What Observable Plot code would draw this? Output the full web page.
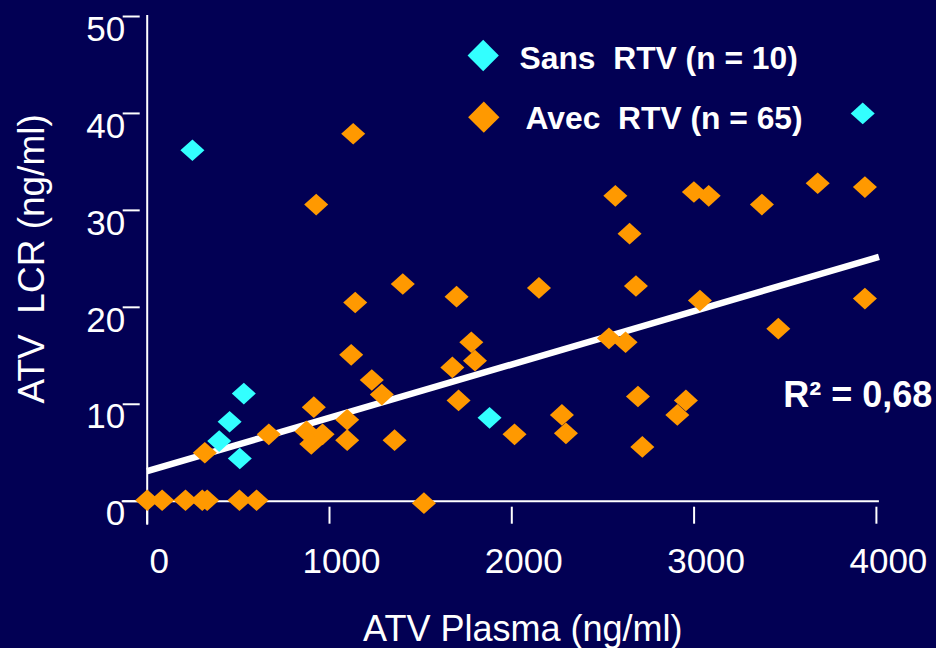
<!DOCTYPE html>
<html><head><meta charset="utf-8">
<script src="https://cdn.jsdelivr.net/npm/d3@7"></script>
<script src="https://cdn.jsdelivr.net/npm/@observablehq/plot@0.6"></script>
<style>
html,body{margin:0;padding:0;background:#020054;}
#chart{width:936px;height:648px;overflow:hidden;}
</style>
</head><body><div id="chart"></div>
<script>
// ---- data ----
const xTicks = [0, 1000, 2000, 3000, 4000];
const yTicks = [0, 10, 20, 30, 40, 50];
const xTitle = "ATV Plasma (ng/ml)";
const yTitle = "ATV\u00a0 LCR (ng/ml)";
const legendLabels = ["Sans\u00a0 RTV (n = 10)", "Avec\u00a0 RTV (n = 65)"];
const r2Label = "R\u00b2 = 0,68";

// Sans RTV (cyan)
const sansX = [248, 395, 452, 508, 530, 1878, 3925];
const sansY = [36.2, 6.2, 8.2, 4.4, 11.1, 8.6, 40.0];

// Avec RTV (orange)
const avecX = [0, 82, 210, 302, 329, 506, 600, 1518,
  1130, 927, 1402, 1141,
  1119, 1232, 1287, 914, 1097, 667, 874, 962, 900, 1097, 1357, 316,
  2568, 2646, 2149, 1697, 2681, 1778, 1798, 1674, 2533, 2624,
  1708, 2015, 2275, 2297, 2692, 2716, 2908, 2955,
  2999, 3080, 3372, 3678, 3937, 3032, 3937, 3462];
const avecY = [0.1, 0.1, 0.1, 0.1, 0.1, 0.1, 0.1, -0.2,
  37.9, 30.6, 22.4, 20.5,
  15.1, 12.5, 11.0, 9.7, 8.4, 6.9, 7.2, 6.9, 5.9, 6.3, 6.3, 5.0,
  31.5, 27.6, 22.0, 21.1, 22.2, 16.4, 14.5, 13.8, 16.8, 16.4,
  10.4, 6.9, 8.9, 7.0, 10.8, 5.6, 8.9, 10.4,
  31.9, 31.5, 30.6, 32.8, 32.4, 20.7, 20.9, 17.8];

// regression line end points
const regX = [0, 4014];
const regY = [3.1, 25.2];

// ---- styles ----
const bg = "#020054";
const cyan = "#33ffff";
const orange = "#ff9900";
const font = "'Liberation Sans', Arial, Helvetica, sans-serif";

const sans = sansX.map((x, i) => ({x, y: sansY[i]}));
const avec = avecX.map((x, i) => ({x, y: avecY[i]}));
const reg = regX.map((x, i) => ({x, y: regY[i]}));

const dataDiamond = {
  draw(context, size) {
    const a = Math.sqrt(size / 1.8);
    const b = a * 0.9;
    context.moveTo(0, -b);
    context.lineTo(a, 0);
    context.lineTo(0, b);
    context.lineTo(-a, 0);
    context.closePath();
  }
};

const chart = Plot.plot({
  width: 936,
  height: 648,
  marginLeft: 146.7,
  marginRight: 60.1,
  marginTop: 16,
  marginBottom: 147.3,
  style: {background: bg, color: "white", fontFamily: font, overflow: "visible"},
  x: {domain: [0, 4000]},
  y: {domain: [0, 50]},
  marks: [
    // axis lines
    Plot.ruleY([0], {stroke: "white", strokeWidth: 2, insetLeft: -25, insetRight: -3}),
    Plot.ruleX([0], {stroke: "white", strokeWidth: 2, insetBottom: -24, insetTop: -1}),
    // ticks
    Plot.axisX(xTicks, {anchor: "bottom", tickSize: 17, dy: 6, tickFormat: () => "", stroke: "white", strokeWidth: 2, label: null}),
    Plot.axisY(yTicks, {anchor: "left", tickSize: 17, dx: -7, tickFormat: () => "", stroke: "white", strokeWidth: 2, label: null}),
    // tick labels
    Plot.text(xTicks, {x: d => d, frameAnchor: "bottom", dy: 61, dx: 12, text: d => String(d), fontSize: 35, fill: "white", lineAnchor: "middle", textAnchor: "middle"}),
    Plot.text(yTicks, {y: d => d, frameAnchor: "left", dx: -22, dy: 13, text: d => String(d), fontSize: 35, fill: "white", textAnchor: "end", lineAnchor: "middle"}),
    // axis titles
    Plot.text([xTitle], {frameAnchor: "bottom", dx: 11, dy: 128, fontSize: 36, fill: "white", lineAnchor: "middle", textAnchor: "middle"}),
    Plot.text([yTitle], {frameAnchor: "left", dx: -115, rotate: -90, fontSize: 37, fill: "white", lineAnchor: "middle", textAnchor: "middle"}),
    // regression line
    Plot.line(reg, {x: "x", y: "y", stroke: "white", strokeWidth: 6.5, strokeLinecap: "butt"}),
    // points
    Plot.dot(avec, {x: "x", y: "y", symbol: dataDiamond, r: 9.1, fill: orange, stroke: "none"}),
    Plot.dot(sans, {x: "x", y: "y", symbol: dataDiamond, r: 9.1, fill: cyan, stroke: "none"}),
    // legend
    Plot.dot([legendLabels[0]], {frameAnchor: "top-left", dx: 336, dy: 39, symbol: "diamond2", r: 14.1, fill: cyan, stroke: "none"}),
    Plot.dot([legendLabels[1]], {frameAnchor: "top-left", dx: 336.6, dy: 100.7, symbol: "diamond2", r: 14.1, fill: orange, stroke: "none"}),
    Plot.text([legendLabels[0]], {frameAnchor: "top-left", dx: 372.3, dy: 42, textAnchor: "start", lineAnchor: "middle", fontSize: 31.8, fontWeight: "bold", fill: "white"}),
    Plot.text([legendLabels[1]], {frameAnchor: "top-left", dx: 378.3, dy: 102, textAnchor: "start", lineAnchor: "middle", fontSize: 31.8, fontWeight: "bold", fill: "white"}),
    // R2 label
    Plot.text([r2Label], {frameAnchor: "right", dx: 56, dy: 137, textAnchor: "end", lineAnchor: "middle", fontSize: 36, fontWeight: "bold", fill: "white"})
  ]
});
document.getElementById("chart").appendChild(chart);
</script></body></html>
